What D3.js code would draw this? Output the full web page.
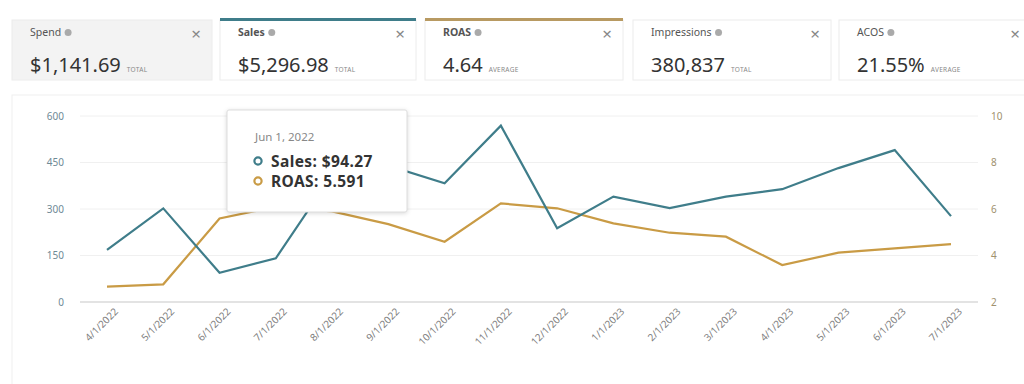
<!DOCTYPE html>
<html>
<head>
<meta charset="utf-8">
<script src="https://cdn.jsdelivr.net/npm/d3@7"></script>
<style>
  body { margin: 0; background: #fff; font-family: "Noto Sans", "Open Sans", sans-serif; }
  #chart { width: 1024px; height: 384px; }
</style>
</head>
<body>
<div id="chart"></div>
<script>
// Données
const dates = ["4/1/2022", "5/1/2022", "6/1/2022", "7/1/2022", "8/1/2022", "9/1/2022", "10/1/2022", "11/1/2022",
    "12/1/2022", "1/1/2023", "2/1/2023", "3/1/2023", "4/1/2023", "5/1/2023", "6/1/2023", "7/1/2023"];
const sales = [168, 302, 94.27, 141, 410, 440, 383, 569, 238, 340, 303, 340, 364, 432, 490, 277];
const roas = [2.66, 2.76, 5.591, 6.1, 5.9, 5.35, 4.59, 6.24, 6.03, 5.38, 4.98, 4.81, 3.59, 4.12, 4.31, 4.49];
const salesTicks = [0, 150, 300, 450, 600];
const roasTicks = [2, 4, 6, 8, 10];

// Cartes de métriques en haut
const cardNames = ["Spend", "Sales", "ROAS", "Impressions", "ACOS"];
const cardValues = ["$1,141.69", "$5,296.98", "4.64", "380,837", "21.55%"];
const cardUnits = ["TOTAL", "TOTAL", "AVERAGE", "TOTAL", "AVERAGE"];

const salesColor = "#3f7d8a";
const roasColor = "#c99b45";

function drawChart() {
    const svg = d3.select("#chart").append("svg")
        .attr("width", 1024)
        .attr("height", 384);

    // Cartes
    const cardX = [12, 220, 425, 633, 839];
    const cardW = [200, 196, 198, 198, 200];
    const tops = [null, salesColor, "#b89a62", null, null];

    const cards = svg.selectAll(".card")
        .data(cardNames)
        .enter()
        .append("g")
        .attr("class", "card")
        .attr("transform", (d, i) => "translate(" + cardX[i] + ",20)");

    cards.append("rect")
        .attr("width", (d, i) => cardW[i])
        .attr("height", 60)
        .attr("fill", (d, i) => i === 0 ? "#f3f3f3" : "#fff")
        .attr("stroke", "#ececec");

    cards.filter((d, i) => tops[i])
        .append("rect")
        .attr("y", -2)
        .attr("width", d => cardW[cardNames.indexOf(d)])
        .attr("height", 3)
        .attr("fill", d => tops[cardNames.indexOf(d)]);

    cards.append("text")
        .attr("x", 18)
        .attr("y", 16)
        .attr("font-size", 10.5)
        .attr("fill", "#555")
        .attr("font-weight", (d, i) => (i === 1 || i === 2) ? "bold" : "normal")
        .text(d => d);

    // icône d'info, croix, valeur et unité
    cards.each(function (d, i) {
        const g = d3.select(this);
        const w = g.select("text").node().getComputedTextLength();
        g.append("circle")
            .attr("cx", 18 + w + 7)
            .attr("cy", 12.5)
            .attr("r", 3.5)
            .attr("fill", "#aaa");
        g.append("text")
            .attr("x", i === 4 ? 176 : cardW[i] - 16)
            .attr("y", 20)
            .attr("font-size", 17)
            .attr("fill", "#888")
            .attr("text-anchor", "middle")
            .text("×");
        const v = g.append("text")
            .attr("x", 18)
            .attr("y", 52)
            .attr("font-size", 20)
            .attr("fill", "#333")
            .text(cardValues[i]);
        const vw = v.node().getComputedTextLength();
        g.append("text")
            .attr("x", 18 + vw + 6)
            .attr("y", 52)
            .attr("font-size", 6.5)
            .attr("fill", "#888")
            .attr("letter-spacing", 0.3)
            .text(cardUnits[i]);
    });

    // Cadre léger du graphique
    svg.append("rect")
        .attr("x", 12).attr("y", 95)
        .attr("width", 1030).attr("height", 300)
        .attr("fill", "none")
        .attr("stroke", "#f0f0f0");

    const x = d3.scalePoint().domain(dates).range([107, 951]);
    const yLeft = d3.scaleLinear().domain([0, 600]).range([302, 116]);
    const yRight = d3.scaleLinear().domain([2, 10]).range([302, 116]);

    // Grille
    svg.append("g")
        .selectAll("line")
        .data(salesTicks)
        .enter()
        .append("line")
        .attr("x1", 80).attr("x2", 978)
        .attr("y1", d => yLeft(d)).attr("y2", d => yLeft(d))
        .attr("stroke", d => d === 0 ? "#c8c8c8" : "#f0f0f0")
        .attr("stroke-width", d => d === 0 ? 1.2 : 1);

    // Axe gauche
    const left = svg.append("g")
        .attr("transform", "translate(64,0)")
        .call(d3.axisLeft(yLeft).tickValues(salesTicks).tickSize(0).tickPadding(0));
    left.select(".domain").remove();
    left.selectAll("text")
        .attr("fill", "#6f8a96")
        .attr("font-size", 10)
        .attr("font-family", "Noto Sans, sans-serif");

    // Axe droit
    const right = svg.append("g")
        .attr("transform", "translate(991,0)")
        .call(d3.axisRight(yRight).tickValues(roasTicks).tickSize(0).tickPadding(0));
    right.select(".domain").remove();
    right.selectAll("text")
        .attr("fill", "#a0916e")
        .attr("font-size", 10)
        .attr("font-family", "Noto Sans, sans-serif");

    // Axe des dates
    const bottom = svg.append("g")
        .attr("transform", "translate(0,306)")
        .call(d3.axisBottom(x).tickSize(0).tickPadding(0));
    bottom.select(".domain").remove();
    bottom.selectAll("text")
        .attr("fill", "#808080")
        .attr("font-size", 10)
        .attr("font-family", "Noto Sans, sans-serif")
        .attr("text-anchor", "end")
        .attr("dy", "0.6em")
        .attr("transform", "translate(7,2) rotate(-45)");

    // Courbes
    const lineSales = d3.line()
        .x((d, i) => x(dates[i]))
        .y(d => yLeft(d));
    const lineRoas = d3.line()
        .x((d, i) => x(dates[i]))
        .y(d => yRight(d));

    svg.append("path")
        .datum(roas)
        .attr("d", lineRoas)
        .attr("fill", "none")
        .attr("stroke", roasColor)
        .attr("stroke-width", 2.2);

    svg.append("path")
        .datum(sales)
        .attr("d", lineSales)
        .attr("fill", "none")
        .attr("stroke", salesColor)
        .attr("stroke-width", 2.2);

    // Infobulle pour Jun 1, 2022
    const idx = 2;
    const tip = svg.append("g").attr("transform", "translate(227,110)");
    tip.append("rect")
        .attr("width", 180).attr("height", 102)
        .attr("rx", 2)
        .attr("fill", "#fff")
        .attr("stroke", "#ddd")
        .style("filter", "drop-shadow(0px 1px 2px rgba(0,0,0,0.15))");
    tip.append("text")
        .attr("x", 28).attr("y", 31)
        .attr("font-size", 11.5)
        .attr("fill", "#888")
        .text("Jun 1, 2022");
    const rows = [
        { label: "Sales: $" + sales[idx].toFixed(2), color: salesColor },
        { label: "ROAS: " + roas[idx].toFixed(3), color: roasColor }
    ];
    rows.forEach((r, i) => {
        tip.append("circle")
            .attr("cx", 31).attr("cy", 51 + i * 20)
            .attr("r", 3.6)
            .attr("fill", "#fff")
            .attr("stroke", r.color)
            .attr("stroke-width", 2.2);
        tip.append("text")
            .attr("x", 44).attr("y", 57 + i * 20)
            .attr("font-size", 15.5)
            .attr("font-weight", "bold")
            .attr("letter-spacing", 0.4)
            .attr("fill", "#333")
            .text(r.label);
    });
}

drawChart();
</script>
</body>
</html>
